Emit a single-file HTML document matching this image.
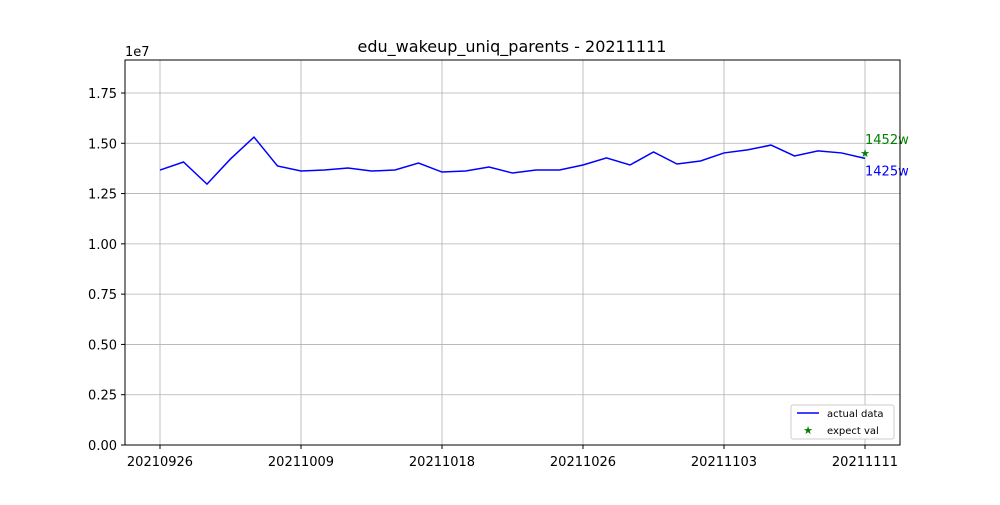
<!DOCTYPE html>
<html><head><meta charset="utf-8"><style>
body{margin:0;background:#fff;}
svg text{font-family:"DejaVu Sans","Liberation Sans",sans-serif;}
</style></head><body>
<svg id="chart" width="1000" height="500" xmlns="http://www.w3.org/2000/svg">
<rect width="1000" height="500" fill="#fff"/>
<text x="512" y="52" font-size="16" text-anchor="middle">edu_wakeup_uniq_parents - 20211111</text>
<g id="grid"></g>
<g id="series"></g>
<rect x="125" y="60" width="775" height="385" fill="none" stroke="#000" stroke-width="1"/>
<text x="125" y="56" font-size="13">1e7</text>
<g>
<rect x="791" y="405" width="103" height="34" fill="#fff" stroke="#ccc" rx="2"/>
<line x1="797" y1="413" x2="819" y2="413" stroke="#0000ff" stroke-width="1.5"/>
<text x="827" y="417" font-size="10">actual data</text>
<text x="808" y="434" font-size="11" fill="green" text-anchor="middle">★</text>
<text x="827" y="434" font-size="10">expect val</text>
</g>
</svg>
<script>
const xLabels=["20210926","20211009","20211018","20211026","20211103","20211111"];
const actual=[1.367,1.407,1.297,1.422,1.531,1.387,1.362,1.367,1.377,1.362,1.367,1.402,1.357,1.362,1.382,1.352,1.367,1.367,1.392,1.427,1.392,1.457,1.397,1.412,1.452,1.467,1.491,1.437,1.462,1.452,1.425];
const expectVal=[1.452];
const yTicks=[0,0.25,0.5,0.75,1.0,1.25,1.5,1.75];
const ns="http://www.w3.org/2000/svg";
const X0=160,X1=865,Y0=445,YTOP=60,YMAX=1.914;
function xs(i){return X0+(X1-X0)*i/(actual.length-1);}
function ys(v){return Y0-(Y0-YTOP)*v/YMAX;}
function mk(tag,attrs,parent){const e=document.createElementNS(ns,tag);for(const k in attrs)e.setAttribute(k,attrs[k]);parent.appendChild(e);return e;}
const grid=document.getElementById('grid');
yTicks.forEach(t=>{
 const y=ys(t);
 const g=mk('line',{x1:125,x2:900,y1:y,y2:y,stroke:'#b0b0b0','stroke-width':0.8},grid);
 
 
 mk('line',{x1:121,x2:125,y1:y,y2:y,stroke:'#000'},grid);
 const tx=mk('text',{x:117,y:y+5,'font-size':13,'text-anchor':'end'},grid);
 tx.textContent=t.toFixed(2);
 
 
});
const step=(actual.length-1)/(xLabels.length-1);
xLabels.forEach((l,j)=>{
 const x=xs(j*step);
 const g=mk('line',{x1:x,x2:x,y1:60,y2:445,stroke:'#b0b0b0','stroke-width':0.8},grid);
 
 
 mk('line',{x1:x,x2:x,y1:445,y2:449,stroke:'#000'},grid);
 const tx=mk('text',{x:x,y:466,'font-size':13,'text-anchor':'middle'},grid);
 tx.textContent=l;
 
 
});
const ser=document.getElementById('series');
const pl=mk('polyline',{points:actual.map((v,i)=>xs(i)+','+ys(v)).join(' '),fill:'none',stroke:'#0000ff','stroke-width':1.5},ser);


const li=actual.length-1;
const ex=mk('text',{x:xs(li),y:ys(expectVal[0])+4,'font-size':11,fill:'green','text-anchor':'middle'},ser);
ex.textContent='★';


const el=mk('text',{x:xs(li),y:ys(expectVal[0])-9,'font-size':13,fill:'green'},ser);
el.textContent=Math.round(expectVal[0]*1000)+'w';


const al=mk('text',{x:xs(li),y:ys(actual[li])+17,'font-size':13,fill:'#0000ff'},ser);
al.textContent=Math.round(actual[li]*1000)+'w';


</script>
</body></html>
